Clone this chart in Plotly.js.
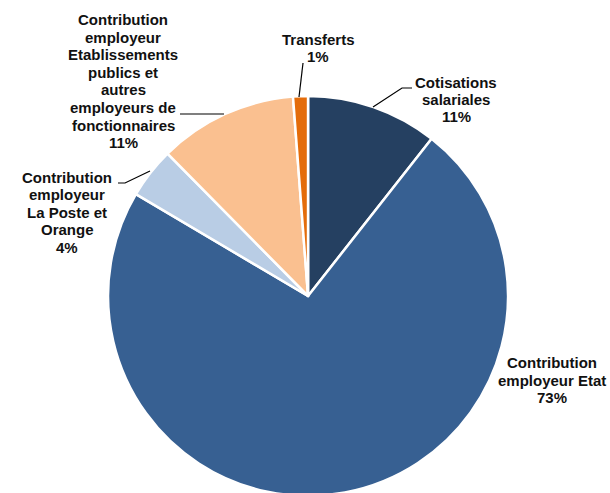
<!DOCTYPE html>
<html>
<head>
<meta charset="utf-8">
<script src="https://cdn.plot.ly/plotly-3.0.1.min.js"></script>
<style>
html,body{margin:0;padding:0;overflow:hidden;background:#fff;}
#chart{width:610px;height:500px;}
</style>
</head>
<body>
<div id="chart"></div>
<script>
// Data
var categories = [
  "Cotisations salariales",
  "Contribution employeur Etat",
  "Contribution employeur La Poste et Orange",
  "Contribution employeur Etablissements publics et autres employeurs de fonctionnaires",
  "Transferts"
];
var labelLines = [
  ["Cotisations", "salariales"],
  ["Contribution", "employeur Etat"],
  ["Contribution", "employeur", "La Poste et", "Orange"],
  ["Contribution", "employeur", "Etablissements", "publics et", "autres", "employeurs de", "fonctionnaires"],
  ["Transferts"]
];
var values = [10.6, 72.9, 4.1, 11.2, 1.2];
var colors = ["#254061", "#376092", "#B9CDE5", "#FAC090", "#E46C0A"];

// Layout helpers (pixel -> paper)
var W = 610, H = 500;
function px(x){ return x / W; }
function py(y){ return 1 - y / H; }

var total = values.reduce(function(a,b){return a+b;}, 0);

// label placement: [center x, first line center y, line spacing]
var labelPos = [
  [456, 82.5, 17.2],
  [552, 362.5, 17.5],
  [67, 177.5, 17.4],
  [123, 19.5, 17.6],
  [318, 39.5, 17.0]
];

var annotations = [];
for (var i = 0; i < categories.length; i++) {
  var lines = labelLines[i].concat([Math.round(values[i] / total * 100) + "%"]);
  for (var j = 0; j < lines.length; j++) {
    annotations.push({
      text: lines[j],
      xref: "paper", yref: "paper",
      x: px(labelPos[i][0]), y: py(labelPos[i][1] + j * labelPos[i][2]),
      xanchor: "center", yanchor: "middle",
      showarrow: false,
      font: {family: "Liberation Sans, Arial, sans-serif", size: 15, color: "#111111", weight: "bold"}
    });
  }
}

// leader lines (pixel polylines)
var leaders = [
  [[412, 88], [402, 88], [373, 107]],
  [[118, 183], [125, 183], [150, 171]],
  [[180, 114], [224, 114]],
  [[303, 63], [299, 97]]
];
var shapes = leaders.map(function(pts){
  var d = pts.map(function(p, k){ return (k ? "L" : "M") + px(p[0]) + "," + py(p[1]); }).join(" ");
  return {type: "path", xref: "paper", yref: "paper", path: d, line: {color: "#000000", width: 1.2}};
});

var trace = {
  type: "pie",
  labels: categories,
  values: values,
  sort: false,
  direction: "clockwise",
  rotation: 0,
  textinfo: "none",
  hoverinfo: "label+percent",
  marker: {colors: colors, line: {color: "#ffffff", width: 2.5}},
  domain: {x: [0.177, 0.833], y: [0.008, 0.808]},
  showlegend: false
};

var layout = {
  width: W, height: H,
  margin: {l: 0, r: 0, t: 0, b: 0},
  paper_bgcolor: "#ffffff",
  showlegend: false,
  annotations: annotations,
  shapes: shapes
};

Plotly.newPlot("chart", [trace], layout, {displayModeBar: false, staticPlot: true});
</script>
</body>
</html>
